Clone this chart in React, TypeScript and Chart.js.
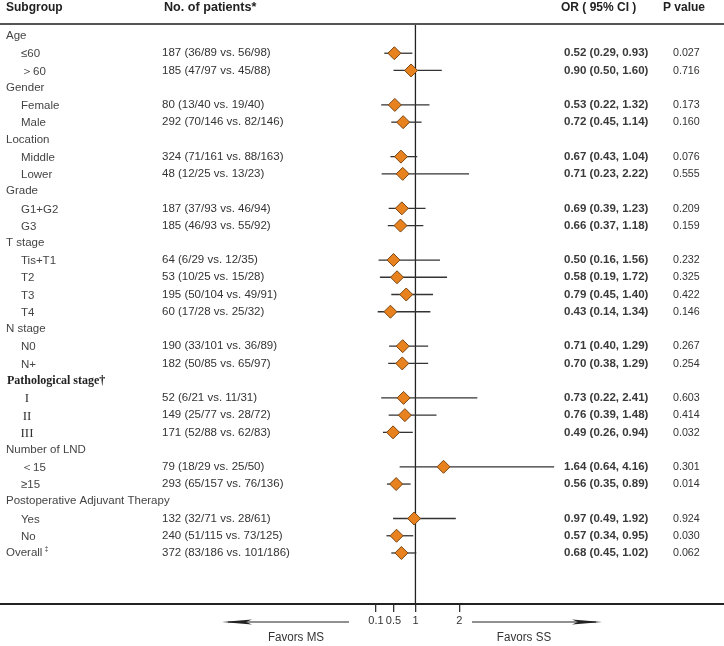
import React, { useEffect, useRef } from "react";
import { Chart, registerables } from "chart.js";

Chart.register(...registerables);

const labels = [
  "Age", "≤60", "＞60",
  "Gender", "Female", "Male",
  "Location", "Middle", "Lower",
  "Grade", "G1+G2", "G3",
  "T stage", "Tis+T1", "T2", "T3", "T4",
  "N stage", "N0", "N+",
  "Pathological stage†", "I", "II", "III",
  "Number of LND", "＜15", "≥15",
  "Postoperative Adjuvant Therapy", "Yes", "No",
  "Overall",
];

const groupHeaders = ["Age", "Gender", "Location", "Grade", "T stage", "N stage", "Pathological stage†", "Number of LND", "Postoperative Adjuvant Therapy", "Overall"];
const romanRows = ["I", "II", "III"];

const patients = [
  "", "187 (36/89 vs. 56/98)", "185 (47/97 vs. 45/88)",
  "", "80 (13/40 vs. 19/40)", "292 (70/146 vs. 82/146)",
  "", "324 (71/161 vs. 88/163)", "48 (12/25 vs. 13/23)",
  "", "187 (37/93 vs. 46/94)", "185 (46/93 vs. 55/92)",
  "", "64 (6/29 vs. 12/35)", "53 (10/25 vs. 15/28)", "195 (50/104 vs. 49/91)", "60 (17/28 vs. 25/32)",
  "", "190 (33/101 vs. 36/89)", "182 (50/85 vs. 65/97)",
  "", "52 (6/21 vs. 11/31)", "149 (25/77 vs. 28/72)", "171 (52/88 vs. 62/83)",
  "", "79 (18/29 vs. 25/50)", "293 (65/157 vs. 76/136)",
  "", "132 (32/71 vs. 28/61)", "240 (51/115 vs. 73/125)",
  "372 (83/186 vs. 101/186)",
];

const orValues: (number | null)[] = [
  null, 0.52, 0.90,
  null, 0.53, 0.72,
  null, 0.67, 0.71,
  null, 0.69, 0.66,
  null, 0.50, 0.58, 0.79, 0.43,
  null, 0.71, 0.70,
  null, 0.73, 0.76, 0.49,
  null, 1.64, 0.56,
  null, 0.97, 0.57,
  0.68,
];

const ciLower: (number | null)[] = [
  null, 0.29, 0.50,
  null, 0.22, 0.45,
  null, 0.43, 0.23,
  null, 0.39, 0.37,
  null, 0.16, 0.19, 0.45, 0.14,
  null, 0.40, 0.38,
  null, 0.22, 0.39, 0.26,
  null, 0.64, 0.35,
  null, 0.49, 0.34,
  0.45,
];

const ciUpper: (number | null)[] = [
  null, 0.93, 1.60,
  null, 1.32, 1.14,
  null, 1.04, 2.22,
  null, 1.23, 1.18,
  null, 1.56, 1.72, 1.40, 1.34,
  null, 1.29, 1.29,
  null, 2.41, 1.48, 0.94,
  null, 4.16, 0.89,
  null, 1.92, 0.95,
  1.02,
];

const pValues = [
  "", "0.027", "0.716",
  "", "0.173", "0.160",
  "", "0.076", "0.555",
  "", "0.209", "0.159",
  "", "0.232", "0.325", "0.422", "0.146",
  "", "0.267", "0.254",
  "", "0.603", "0.414", "0.032",
  "", "0.301", "0.014",
  "", "0.924", "0.030",
  "0.062",
];

const xTicks = [0.1, 0.5, 1, 2];
const headers = ["Subgroup", "No. of patients*", "OR ( 95% CI )", "P value"];
const favorLabels = ["Favors MS", "Favors SS"];

const SANS = '"Liberation Sans", Arial, sans-serif';
const SERIF = '"Liberation Serif", "Times New Roman", serif';

function txt(ctx: CanvasRenderingContext2D, s: string, x: number, y: number, font: string, color: string, sx = 1, align: CanvasTextAlign = "left") {
  ctx.save();
  ctx.font = font;
  ctx.fillStyle = color;
  ctx.textBaseline = "middle";
  ctx.textAlign = align;
  ctx.translate(x, y);
  ctx.scale(sx, 1);
  ctx.fillText(s, 0, 0);
  ctx.restore();
}

const fmt = (v: number) => v.toFixed(2);

const forestPlugin = {
  id: "forest",
  beforeDatasetsDraw(chart: any) {
    const { ctx, scales } = chart;
    const xs = scales.x, ys = scales.y;
    const x1 = xs.getPixelForValue(1);
    ctx.save();
    ctx.strokeStyle = "#222";
    ctx.lineWidth = 1.3;
    ctx.beginPath();
    ctx.moveTo(x1, 24);
    ctx.lineTo(x1, chart.chartArea.bottom);
    ctx.stroke();
    ctx.strokeStyle = "#333";
    ctx.lineWidth = 1.3;
    for (let i = 0; i < orValues.length; i++) {
      const lo = ciLower[i], hi = ciUpper[i];
      if (lo == null || hi == null) continue;
      const y = ys.getPixelForValue(i);
      ctx.beginPath();
      ctx.moveTo(xs.getPixelForValue(lo), y);
      ctx.lineTo(xs.getPixelForValue(hi), y);
      ctx.stroke();
    }
    ctx.restore();
  },
  afterDraw(chart: any) {
    const { ctx, scales, width } = chart;
    const ys = scales.y;
    txt(ctx, headers[0], 6, 8, `bold 12px ${SANS}`, "#222");
    txt(ctx, headers[1], 164, 8, `bold 12px ${SANS}`, "#222", 1.05);
    txt(ctx, headers[2], 561, 8, `bold 12px ${SANS}`, "#222");
    txt(ctx, headers[3], 663, 8, `bold 12px ${SANS}`, "#222");
    ctx.save();
    ctx.strokeStyle = "#555";
    ctx.lineWidth = 2;
    ctx.beginPath();
    ctx.moveTo(0, 24);
    ctx.lineTo(width, 24);
    ctx.stroke();
    ctx.restore();

    for (let i = 0; i < labels.length; i++) {
      const y = ys.getPixelForValue(i);
      const lab = labels[i];
      if (lab === "Pathological stage†") {
        txt(ctx, lab, 7, y, `bold 12px ${SERIF}`, "#222");
      } else if (romanRows.includes(lab)) {
        txt(ctx, lab, 27, y + 1, `13px ${SERIF}`, "#333", 1, "center");
      } else if (lab === "Overall") {
        txt(ctx, lab, 6, y, `11.5px ${SANS}`, "#444");
        ctx.save();
        ctx.font = `11.5px ${SANS}`;
        const w = ctx.measureText(lab).width;
        ctx.restore();
        txt(ctx, "‡", 6 + w + 2, y - 4, `7px ${SANS}`, "#444");
      } else if (groupHeaders.includes(lab)) {
        txt(ctx, lab, 6, y, `11.5px ${SANS}`, "#444");
      } else {
        txt(ctx, lab, 21, y + 1, `11.5px ${SANS}`, "#444");
      }
      if (patients[i]) txt(ctx, patients[i], 162, y, `11.5px ${SANS}`, "#333");
      const o = orValues[i], lo = ciLower[i], hi = ciUpper[i];
      if (o != null && lo != null && hi != null) {
        txt(ctx, `${fmt(o)} (${fmt(lo)}, ${fmt(hi)})`, 564, y, `bold 11.5px ${SANS}`, "#3a3a3a");
      }
      if (pValues[i]) txt(ctx, pValues[i], 673, y, `11.5px ${SANS}`, "#333", 0.93);
    }

    const ay = 622;
    ctx.save();
    ctx.strokeStyle = "#222";
    ctx.fillStyle = "#222";
    ctx.lineWidth = 1.2;
    ctx.beginPath();
    ctx.moveTo(228, ay);
    ctx.lineTo(349, ay);
    ctx.stroke();
    ctx.beginPath();
    ctx.moveTo(222, ay);
    ctx.lineTo(252, ay - 2.6);
    ctx.lineTo(246, ay);
    ctx.lineTo(252, ay + 2.6);
    ctx.closePath();
    ctx.fill();
    ctx.beginPath();
    ctx.moveTo(472, ay);
    ctx.lineTo(596, ay);
    ctx.stroke();
    ctx.beginPath();
    ctx.moveTo(602, ay);
    ctx.lineTo(572, ay - 2.6);
    ctx.lineTo(578, ay);
    ctx.lineTo(572, ay + 2.6);
    ctx.closePath();
    ctx.fill();
    ctx.restore();
    txt(ctx, favorLabels[0], 296, 638, `12.5px ${SANS}`, "#333", 0.93, "center");
    txt(ctx, favorLabels[1], 524, 638, `12.5px ${SANS}`, "#333", 0.93, "center");
  },
};

export default function App() {
  const ref = useRef<HTMLCanvasElement | null>(null);
  useEffect(() => {
    if (!ref.current) return;
    const points = orValues
      .map((v, i) => (v == null ? null : { x: v, y: i }))
      .filter((p) => p !== null) as { x: number; y: number }[];
    const chart = new Chart(ref.current, {
      type: "scatter",
      data: {
        datasets: [
          {
            data: points,
            pointStyle: "rectRot",
            pointRadius: 6.5,
            pointHoverRadius: 6.5,
            backgroundColor: "#E8821F",
            borderColor: "#7a4512",
            borderWidth: 1,
            clip: false,
          },
        ],
      },
      options: {
        animation: false,
        responsive: false,
        devicePixelRatio: 1,
        events: [],
        layout: { padding: 0, autoPadding: false },
        plugins: { legend: { display: false }, tooltip: { enabled: false } },
        scales: {
          x: {
            type: "linear",
            min: -8.465,
            max: 8.03,
            afterBuildTicks: (scale: any) => {
              scale.ticks = xTicks.map((v) => ({ value: v }));
            },
            afterFit: (scale: any) => {
              scale.height = 42;
            },
            ticks: {
              autoSkip: false,
              maxRotation: 0,
              minRotation: 0,
              padding: 2,
              color: "#333",
              font: { family: SANS, size: 11 },
              callback: (v: any) => String(v),
            },
            grid: {
              drawOnChartArea: false,
              drawTicks: true,
              tickLength: 8,
              color: "#333",
              lineWidth: 1.3,
            },
            border: { display: true, color: "#222", width: 2 },
          },
          y: {
            type: "linear",
            display: false,
            reverse: true,
            min: -2.089,
            max: 32.96,
          },
        },
      },
      plugins: [forestPlugin],
    });
    return () => chart.destroy();
  }, []);
  return (
    <div style={{ position: "absolute", left: 0, top: 0, width: 724, height: 646, background: "#fff" }}>
      <canvas ref={ref} width={724} height={646} style={{ display: "block", width: 724, height: 646 }} />
    </div>
  );
}
